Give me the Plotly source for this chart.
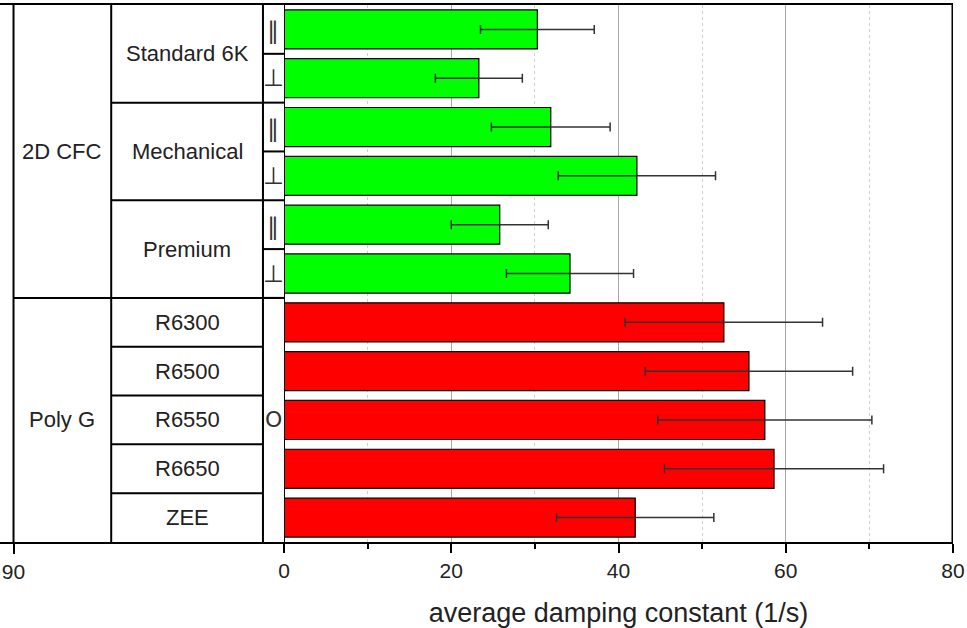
import plotly.graph_objects as go

# ---- data -------------------------------------------------------------
groups = ["2D CFC"] * 6 + ["Poly G"] * 5
materials = ["Standard 6K", "Standard 6K", "Mechanical", "Mechanical",
             "Premium", "Premium", "R6300", "R6500", "R6550", "R6650", "ZEE"]
orientations = ["∥", "⊥", "∥", "⊥", "∥", "⊥", "O", "O", "O", "O", "O"]
damping = [30.3, 23.3, 31.9, 42.2, 25.8, 34.2, 52.6, 55.6, 57.5, 58.6, 42.0]
damping_err = [6.8, 5.2, 7.1, 9.4, 5.8, 7.6, 11.8, 12.4, 12.8, 13.1, 9.4]
group_colors = {"2D CFC": "#00ff00", "Poly G": "#ff0000"}

x_ticks = [0, 20, 40, 60, 80]
table_ticks = [90]

# table column edges on the left (reversed) axis
COL_GROUP, COL_MAT, COL_ORI, COL_END = 90, 57.5, 7, 0

FONT = "Arial, Liberation Sans, sans-serif"
W, H = 967, 628
ML, MR, MT, MB = 0, 14, 5, 86
split = 284 / (W - ML - MR)

n = len(damping)
ypos = list(range(n))


def runs(seq):
    """Return (value, first_index, last_index) for consecutive runs."""
    out, start = [], 0
    for i in range(1, len(seq) + 1):
        if i == len(seq) or seq[i] != seq[start]:
            out.append((seq[start], start, i - 1))
            start = i
    return out


fig = go.Figure()

fig.add_trace(go.Bar(
    x=damping, y=ypos, orientation="h", width=0.8,
    marker=dict(color=[group_colors[g] for g in groups],
                line=dict(color="black", width=1.2)),
    error_x=dict(type="data", array=damping_err, visible=True,
                 color="#333333", thickness=1.5, width=4.5),
    xaxis="x2", yaxis="y", showlegend=False,
))

shapes = []
line_k = dict(color="black", width=2)


def hline(x0, x1, y):
    shapes.append(dict(type="line", xref="x", yref="y", x0=x0, x1=x1,
                       y0=y, y1=y, line=line_k, layer="above"))


# vertical table rules
for xc in (COL_GROUP, COL_MAT, COL_ORI):
    shapes.append(dict(type="line", xref="x", yref="y", x0=xc, x1=xc,
                       y0=-0.5, y1=n - 0.5, line=line_k))

annotations = []
for name, a, b in runs(groups):
    if b < n - 1:
        hline(COL_GROUP, COL_END, b + 0.5)
    annotations.append(dict(x=(COL_GROUP + COL_MAT) / 2, y=(a + b) / 2,
                            xref="x", yref="y", text=name, showarrow=False,
                            font=dict(size=22, family=FONT, color="#222")))
for name, a, b in runs(materials):
    if b < n - 1:
        hline(COL_MAT, COL_ORI, b + 0.5)
    annotations.append(dict(x=(COL_MAT + COL_ORI) / 2, y=(a + b) / 2,
                            xref="x", yref="y", text=name, showarrow=False,
                            font=dict(size=22, family=FONT, color="#222")))
for name, a, b in runs(orientations):
    if b < n - 1:
        hline(COL_ORI, COL_END, b + 0.5)
    annotations.append(dict(x=(COL_ORI + COL_END) / 2, y=(a + b) / 2,
                            xref="x", yref="y", text=name, showarrow=False,
                            yshift=-2 if name == "∥" else 0,
                            font=dict(size=24 if name != "O" else 22,
                                      family="DejaVu Sans, " + FONT,
                                      color="#333")))

# left edge of the bar panel and thick right border
shapes.append(dict(type="line", xref="x2", yref="y", x0=0, x1=0,
                   y0=-0.5, y1=n - 0.5, line=line_k))
shapes.append(dict(type="line", xref="x2", yref="y", x0=80, x1=80,
                   y0=-0.5, y1=n - 0.5, line=dict(color="black", width=3)))

fig.update_layout(
    width=W, height=H,
    margin=dict(l=ML, r=MR, t=MT, b=MB, autoexpand=False),
    paper_bgcolor="white", plot_bgcolor="white",
    font=dict(family=FONT, size=21, color="#222"),
    bargap=0.2,
    xaxis=dict(
        domain=[0, split], range=[94.5, 0], anchor="y",
        tickvals=table_ticks, ticks="outside", ticklen=10, tickwidth=2,
        tickcolor="black", showgrid=False, zeroline=False,
        showline=True, linecolor="black", linewidth=2, mirror=True,
        tickfont=dict(size=21, family=FONT, color="#222"),
    ),
    xaxis2=dict(
        domain=[split, 1], range=[0, 80], anchor="y",
        tickvals=x_ticks, ticks="outside", ticklen=9, tickwidth=2,
        tickcolor="black", showgrid=True, gridcolor="#a8a8a8", gridwidth=1,
        zeroline=False, showline=True, linecolor="black", linewidth=2,
        mirror=True,
        minor=dict(dtick=10, tick0=0, ticks="outside", ticklen=5,
                   tickwidth=2, tickcolor="black", showgrid=True,
                   gridcolor="#cfcfcf", griddash="dot", gridwidth=1),
        tickfont=dict(size=21, family=FONT, color="#222"),
        title=dict(text="average damping constant (1/s)", standoff=22,
                   font=dict(size=27, family=FONT, color="#222")),
    ),
    yaxis=dict(range=[n - 0.5, -0.5], showticklabels=False, showgrid=False,
               zeroline=False, showline=False, ticks=""),
    shapes=shapes,
    annotations=annotations,
)

fig.write_html("out.html")
